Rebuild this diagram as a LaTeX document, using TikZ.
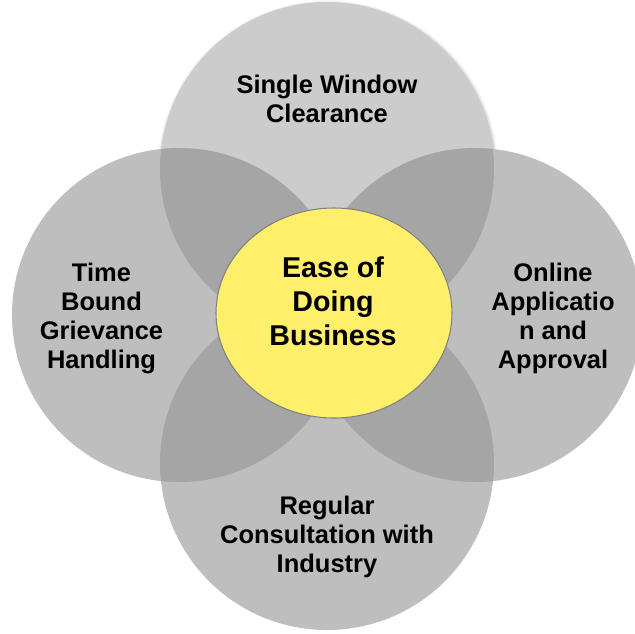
\documentclass[tikz,border=0pt]{standalone}
\usepackage{fontspec}
\setmainfont{Liberation Sans}
\usepackage{xcolor}
\usepackage{tikz}
\usetikzlibrary{shapes.geometric, shadows.blur, positioning, calc}

\definecolor{topgray}{HTML}{CCCCCC}
\definecolor{sidegray}{HTML}{BEBEBE}
\definecolor{lensgray}{HTML}{A5A5A5}
\definecolor{easeyellow}{HTML}{FFEF6B}
\newcommand{\petalr}{3.34cm}

\begin{document}
\begin{tikzpicture}[
    petal/.style={circle, minimum size=6.68cm, inner sep=0pt, fill=sidegray},
    hub/.style={ellipse, minimum width=4.72cm, minimum height=4.2cm, inner sep=0pt, draw=gray, line width=0.6pt, fill=easeyellow},
    petaltext/.style={align=center, font=\bfseries\fontsize{14.5}{16.5}\selectfont},
    hubtext/.style={align=center, font=\bfseries\fontsize{16.3}{19.4}\selectfont}
]
    \clip (0,0) rectangle (12.70,-12.66);
    % the four petals
    \node[petal, fill=topgray, blur shadow={shadow xshift=0.5pt, shadow yshift=-1pt, shadow blur steps=6, shadow opacity=35}] (top) at (6.54,-3.38) {};
    \node[petal] (left) at (3.58,-6.30) {};
    \node[petal] (right) at (9.50,-6.30) {};
    \node[petal] (bottom) at (6.54,-9.26) {};
    % overlaps
    \foreach \a/\b in {top/left, top/right, bottom/left, bottom/right} {
        \begin{scope}
            \clip (\a.center) circle[radius=\petalr];
            \fill[lensgray] (\b.center) circle[radius=\petalr];
        \end{scope}
    }
    \node[hub] (hub) at (6.68,-6.26) {};
    \node[hubtext] (hubText) at (6.66,-6.02) {Ease of\\Doing\\Business};
    \node[petaltext] (topText) at (6.54,-1.97) {Single Window\\Clearance};
    \node[petaltext] (leftText) at (2.03,-6.36) {Time\\Bound\\Grievance\\Handling};
    \node[petaltext] (rightText) at (11.06,-6.36) {Online\\Applicatio\\n and\\Approval};
    \node[petaltext] (bottomText) at (6.54,-10.73) {Regular\\Consultation with\\Industry};
\end{tikzpicture}
\end{document}
